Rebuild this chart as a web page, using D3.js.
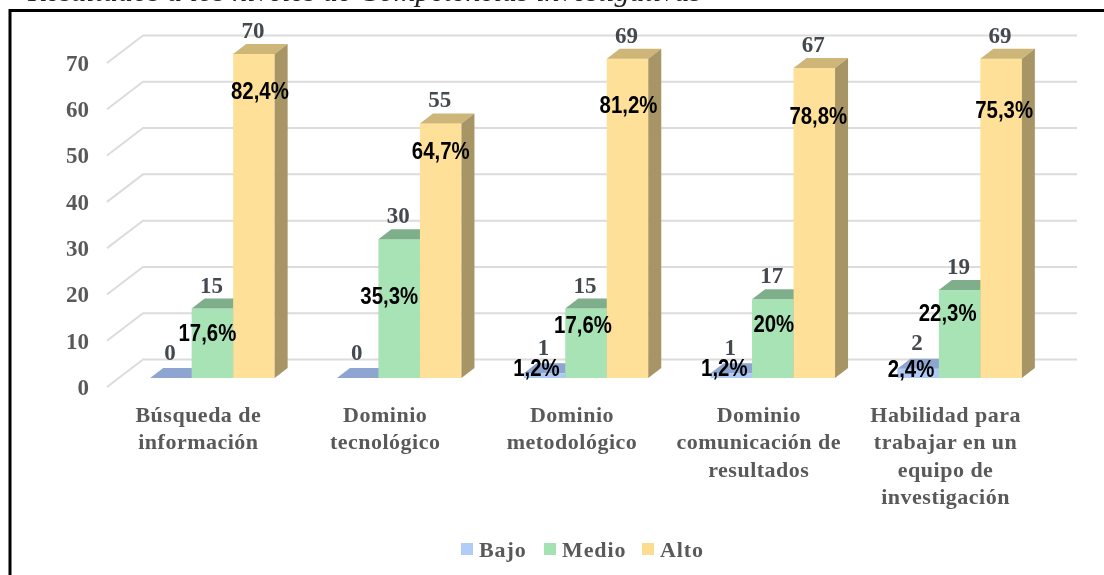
<!DOCTYPE html>
<html>
<head>
<meta charset="utf-8">
<script src="https://cdn.jsdelivr.net/npm/d3@7"></script>
<style>
  html, body { margin: 0; padding: 0; background: #fff; overflow: hidden; }
  svg { display: block; filter: blur(0.45px); }
  text { font-family: "Liberation Serif", serif; }
</style>
</head>
<body>
<svg id="chart"></svg>
<script>
const categories = [
  'Búsqueda de información',
  'Dominio tecnológico',
  'Dominio metodológico',
  'Dominio comunicación de resultados',
  'Habilidad para trabajar en un equipo de investigación'
];
const categoryLines = [
  ['Búsqueda de', 'información'],
  ['Dominio', 'tecnológico'],
  ['Dominio', 'metodológico'],
  ['Dominio', 'comunicación de', 'resultados'],
  ['Habilidad para', 'trabajar en un', 'equipo de', 'investigación']
];
const seriesNames = ['Bajo', 'Medio', 'Alto'];
const bajo = [0, 0, 1, 1, 2];
const medio = [15, 30, 15, 17, 19];
const alto = [70, 55, 69, 67, 69];
const bajoPct = [null, null, '1,2%', '1,2%', '2,4%'];
const medioPct = ['17,6%', '35,3%', '17,6%', '20%', '22,3%'];
const altoPct = ['82,4%', '64,7%', '81,2%', '78,8%', '75,3%'];
const yTicks = [0, 10, 20, 30, 40, 50, 60, 70];

/* percent labels were placed by hand in the original, offset from the bar top */
const bajoNudge = [[0, 0], [0, 0], [-8, -6], [-7, -6], [-7, 0]];
const medioNudge = [[-5, 24], [-10, 56], [-3, 16], [1, 24], [-12, 22]];
const altoNudge = [[6, 36], [0, 27], [1, 46], [4, 48], [3, 51]];

const totalWidth = 1104;
const totalHeight = 575;
const GRID_DX = 36;
const GRID_DY = -27.5;
const BAR_DX = 12; // bars stand part way into the floor
const BAR_DY = -9;
const DEPTH_DX = 13;
const DEPTH_DY = -10;
const BAR_WIDTH = 41.5;
const NARROW = 0.85; // no narrow face installed, squeeze Liberation Sans

const frontColors = ['#aec9f4', '#a7e3b5', '#ffe098'];
const topColors = ['#8da5d0', '#7fae8b', '#cdb678'];
const sideColors = ['#7f93b8', '#76a080', '#a89566'];
const legendColors = ['#b0ccf8', '#a5e2b3', '#fbdc90'];

const svg = d3.select('#chart')
  .attr('width', totalWidth)
  .attr('height', totalHeight)
  .attr('viewBox', `0 0 ${totalWidth} ${totalHeight}`);

const xScale = d3.scaleBand(categories, [107, 1041]);
const yScale = d3.scaleLinear([0, 70], [387, 63]);
const seriesScale = d3.scalePoint(seriesNames, [-BAR_WIDTH, BAR_WIDTH]);

/* clipped caption above the frame */
svg.append('text')
  .attr('x', 28)
  .attr('y', 1)
  .attr('font-size', 30)
  .attr('font-style', 'italic')
  .attr('fill', '#222')
  .text('Resultados a los niveles de Competencias investigativas');

/* frame, only left and top are in view */
svg.append('path')
  .attr('d', `M10,${totalHeight}V10.5H${totalWidth}`)
  .attr('fill', 'none')
  .attr('stroke', '#000')
  .attr('stroke-width', 3);

/* render grid lines */
const gridG = svg.append('g')
  .attr('fill', 'none')
  .attr('stroke', '#dcdcdc')
  .attr('stroke-width', 2);

gridG.selectAll('.grid-line')
  .data(yTicks)
  .enter()
  .append('path')
  .attr('class', 'grid-line')
  .attr('d', (d) => {
    const [x0, x1] = xScale.range();
    return `M${x0},${yScale(d)}L${x0 + GRID_DX},${yScale(d) + GRID_DY}H${x1 + GRID_DX}`;
  });

/* render left axis */
const leftAxis = d3.axisLeft(yScale).tickValues(yTicks).tickSize(0).tickPadding(18);
svg.append('g')
  .attr('transform', `translate(${xScale.range()[0]}, 0)`)
  .call(leftAxis)
  .call((g) => g.select('.domain').remove())
  .selectAll('text')
  .attr('font-family', '"Liberation Serif", serif')
  .attr('font-size', 23)
  .attr('font-weight', 'bold')
  .attr('fill', '#595959');

/* render bottom labels */
const bottomAxis = d3.axisBottom(xScale).tickSize(0).tickPadding(0);
svg.append('g')
  .attr('transform', 'translate(-2, 400)')
  .call(bottomAxis)
  .call((g) => g.select('.domain').remove())
  .selectAll('.tick')
  .each(function (d, i) {
    const label = d3.select(this).select('text')
      .attr('font-family', '"Liberation Serif", serif')
      .attr('font-size', 22)
      .attr('font-weight', 'bold')
      .attr('letter-spacing', 0.5)
      .attr('fill', '#595959')
      .attr('dy', null)
      .attr('y', 0)
      .text(null);
    label.selectAll('tspan')
      .data(categoryLines[i])
      .enter()
      .append('tspan')
      .attr('x', 0)
      .attr('y', (_, j) => 22 + j * 27.4)
      .text((line) => line);
  });

/* render bars */
const seriesData = [
  { name: 'Bajo', values: bajo, pct: bajoPct, nudge: bajoNudge, valueGap: 8.5 },
  { name: 'Medio', values: medio, pct: medioPct, nudge: medioNudge, valueGap: 6 },
  { name: 'Alto', values: alto, pct: altoPct, nudge: altoNudge, valueGap: 6 }
];

const barLeft = (s, i) =>
  xScale(categories[i]) + xScale.bandwidth() / 2 + BAR_DX + seriesScale(s) - BAR_WIDTH / 2;
const barY = (v) => yScale(v) + BAR_DY;

const barsG = svg.append('g');

seriesData.forEach((series, k) => {
  series.values.forEach((v, i) => {
    const x0 = barLeft(series.name, i);
    const x1 = x0 + BAR_WIDTH;
    const y0 = barY(0);
    const yTop = barY(v);
    const g = barsG.append('g').attr('class', 'bar');
    g.append('rect')
      .attr('x', x0)
      .attr('y', yTop)
      .attr('width', BAR_WIDTH)
      .attr('height', y0 - yTop)
      .attr('fill', frontColors[k]);
    g.append('path')
      .attr('d', `M${x0},${yTop}L${x0 + DEPTH_DX},${yTop + DEPTH_DY}H${x1 + DEPTH_DX}L${x1},${yTop}Z`)
      .attr('fill', topColors[k]);
    g.append('path')
      .attr('d', `M${x1},${yTop}L${x1 + DEPTH_DX},${yTop + DEPTH_DY}V${y0 + DEPTH_DY}L${x1},${y0}Z`)
      .attr('fill', sideColors[k]);
  });
});

/* value labels and percent labels go on top of every bar */
const labelsG = svg.append('g');

seriesData.forEach((series) => {
  series.values.forEach((v, i) => {
    const xc = barLeft(series.name, i) + BAR_WIDTH / 2;
    labelsG.append('text')
      .attr('x', xc - 1)
      .attr('y', barY(v) + DEPTH_DY - series.valueGap)
      .attr('text-anchor', 'middle')
      .attr('font-size', 23)
      .attr('font-weight', 'bold')
      .attr('fill', '#44494f')
      .text(v);
  });
});

seriesData.forEach((series) => {
  series.values.forEach((v, i) => {
    if (!series.pct[i]) return;
    const xc = barLeft(series.name, i) + BAR_WIDTH / 2;
    const [dx, dy] = series.nudge[i];
    labelsG.append('text')
      .attr('transform', `translate(${xc + dx}, ${barY(v) + dy + 8.5}) scale(${NARROW}, 1)`)
      .attr('text-anchor', 'middle')
      .style('font-family', '"Liberation Sans", sans-serif')
      .attr('font-size', 24)
      .attr('font-weight', 'bold')
      .attr('fill', '#000')
      .text(series.pct[i]);
  });
});

/* render legend */
const legendX = d3.scaleOrdinal(seriesNames, [461, 544, 642]);
const legendG = svg.append('g');
seriesNames.forEach((name, k) => {
  legendG.append('rect')
    .attr('x', legendX(name))
    .attr('y', 543)
    .attr('width', 12)
    .attr('height', 12)
    .attr('fill', legendColors[k]);
  legendG.append('text')
    .attr('x', legendX(name) + 18)
    .attr('y', 557)
    .attr('font-size', 22)
    .attr('font-weight', 'bold')
    .attr('letter-spacing', 0.9)
    .attr('fill', '#595959')
    .text(name);
});
</script>
</body>
</html>
